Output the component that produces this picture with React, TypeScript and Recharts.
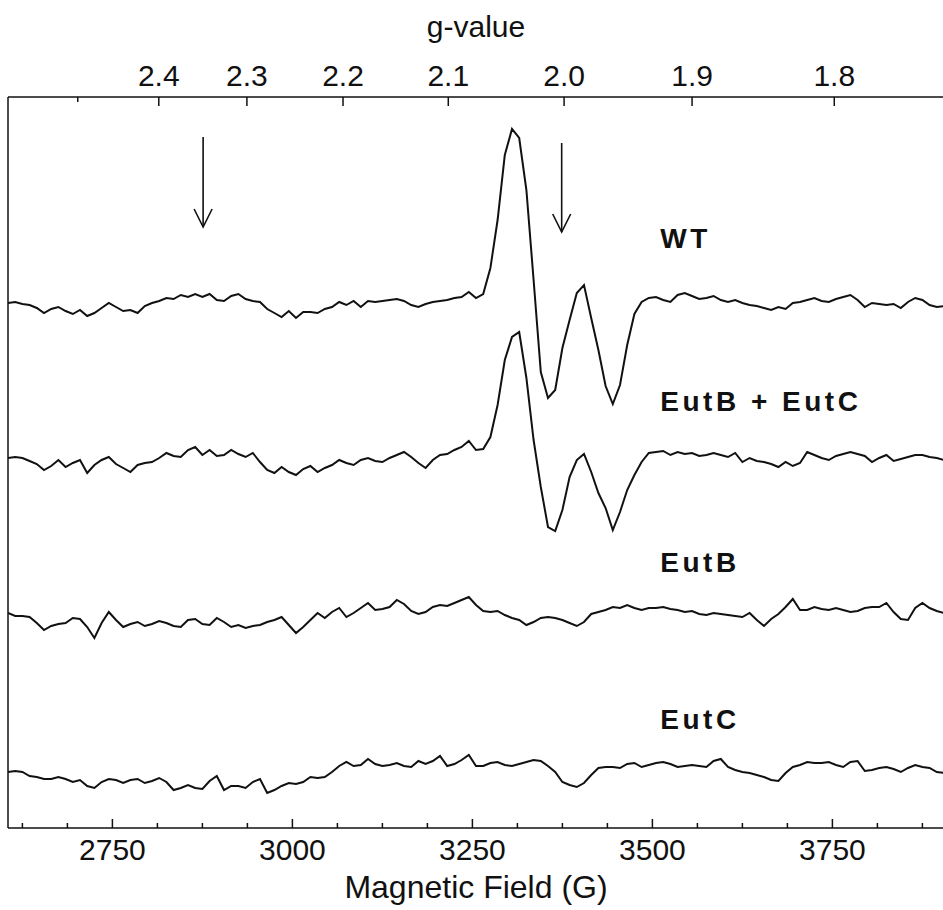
import {
  LineChart, Line, XAxis, YAxis, ReferenceLine, ReferenceDot,
} from 'recharts'

// ── Data ──────────────────────────────────────────────────────────────────────

// field sweep, 10 G steps
const FIELD_START = 2605
const FIELD_END   = 3905
const FIELD_G = Array.from({ length: 131 }, (_, i) => FIELD_START + 10 * i)

// first-derivative EPR signals, arbitrary units
const WT = [
  -3, -2, -4, -5, -8, -13, -9, -7, -11, -14,
  -10, -16, -13, -8, -3, -7, -11, -10, -13, -6,
  -3, -1, 2, 1, 5, 3, 6, 3, 6, 0,
  -1, 4, 6, 1, -1, -2, -9, -13, -17, -11,
  -18, -12, -12, -13, -9, -7, -2, -5, -1, -7,
  -1, -2, -1, 0, 1, -1, -5, -7, -4, -2,
  -1, 0, 2, 3, 8, 2, 6, 32, 80, 145,
  171, 162, 110, 20, -72, -98, -90, -48, -20, 7,
  15, -18, -50, -86, -104, -85, -45, -14, -2, 2,
  3, 0, -2, 5, 7, 4, 1, 2, 4, 0,
  -2, 0, -3, -5, -6, -8, -10, -7, -9, -3,
  -2, 0, 2, -1, -2, 1, 3, 5, 0, -7,
  -3, -4, -5, -4, -8, -2, 2, 0, -5, -7, -6,
]

const EUTB_EUTC = [
  -3, -2, -3, -6, -9, -15, -11, -5, -12, -8,
  -5, -18, -10, -5, -2, -9, -13, -17, -10, -8,
  -7, -3, 2, -1, -2, 5, 8, 0, 5, -1,
  0, 5, 1, -2, 2, -7, -15, -18, -12, -17,
  -20, -14, -11, -17, -13, -10, -5, -8, -10, -5,
  -3, -6, -7, -3, 0, 3, -2, -8, -13, -5,
  0, 1, 5, 8, 14, 5, 6, 18, 50, 95,
  118, 123, 77, 15, -32, -72, -76, -55, -22, -5,
  1, -17, -38, -53, -75, -57, -35, -20, -7, 2,
  3, 4, 0, 3, 1, 2, -1, 0, 2, 0,
  -2, 2, -7, -3, -6, -7, -9, -12, -7, -11,
  -8, 3, 0, -3, -5, -1, 1, 3, 1, -1,
  -7, -3, 0, -6, -4, -2, 0, 0, -2, -3, -5,
]

const EUTB = [
  2, -1, -1, -2, -8, -15, -11, -9, -8, -3,
  -4, -12, -23, -8, 3, -5, -12, -9, -7, -11,
  -9, -6, -8, -11, -12, -5, -4, -9, -10, -3,
  -7, -12, -10, -13, -11, -10, -7, -5, -2, -10,
  -18, -12, -5, 2, -3, 3, 7, -2, 2, 7,
  12, 5, 6, 8, 15, 11, 4, 1, 3, 8,
  10, 9, 12, 15, 18, 10, 4, 3, 4, 0,
  -3, -5, -10, -7, -3, -2, -3, -5, -8, -11,
  -7, 1, 3, 5, 8, 7, 10, 7, 5, 7,
  7, 8, 6, 5, 3, 4, 1, 0, 2, 1,
  0, -1, -2, 2, -5, -11, -4, 1, 8, 16,
  5, 5, 8, 6, 5, 7, 5, 3, 4, 7,
  8, 8, 12, 3, -4, -5, 7, 12, 7, 4, 2,
]

const EUTC = [
  -2, -1, -2, -6, -7, -9, -9, -7, -9, -12,
  -10, -16, -18, -12, -9, -10, -13, -10, -9, -13,
  -11, -8, -12, -20, -18, -15, -18, -19, -11, -6,
  -20, -16, -16, -18, -12, -9, -23, -20, -16, -13,
  -14, -12, -7, -8, -7, -2, 4, 8, 4, 5,
  11, 6, 4, 5, 7, 4, 3, 9, 6, 9,
  14, 4, 6, 10, 15, 4, 4, 7, 8, 5,
  4, 6, 8, 10, 9, 4, -2, -12, -15, -17,
  -13, -5, 2, 3, 3, 2, 6, 7, 3, 5,
  7, 8, 6, 3, 4, 5, 4, 3, 9, 11,
  3, 0, -2, -3, -5, -7, -10, -11, -3, 3,
  5, 8, 7, 7, 8, 5, 3, 8, 9, -1,
  0, 2, 3, 1, -2, 2, 5, 3, 2, -2, -3,
]

// vertical stacking of the spectra (a.u.)
const TRACES = [
  { key: 'wt',   label: 'WT',          values: WT,        offset: 528, labelLevel: 580 },
  { key: 'bc',   label: 'EutB + EutC', values: EUTB_EUTC, offset: 373, labelLevel: 417 },
  { key: 'b',    label: 'EutB',        values: EUTB,      offset: 213, labelLevel: 256 },
  { key: 'c',    label: 'EutC',        values: EUTC,      offset: 58,  labelLevel: 99 },
]
const LABEL_FIELD = 3511

const FIELD_LABELED = [2750, 3000, 3250, 3500, 3750]
const FIELD_TICKS   = Array.from({ length: 21 }, (_, i) => 2625 + 62.5 * i)

// g = h·ν / (μB·B)  ->  B[G] = 0.714477 · ν[MHz] / g
const MW_FREQ_MHZ  = 9454
const G_LABELED    = ['2.4', '2.3', '2.2', '2.1', '2.0', '1.9', '1.8']
const G_MINOR      = ['2.5']
const gToField = (g: string) => (0.714477 * MW_FREQ_MHZ) / parseFloat(g)

// arrows pointing at the g≈2.35 and g≈2.00 positions
const ARROWS = [
  { field: 2876, from: 691, to: 601 },
  { field: 3374, from: 685, to: 596 },
]

const Y_MAX = 731

const FONT = '"Liberation Sans", Arial, Helvetica, sans-serif'
const INK  = '#111'

// ── Ticks ─────────────────────────────────────────────────────────────────────

function FieldTick({ x, y, payload }: any) {
  const v = payload.value as number
  const major = FIELD_LABELED.includes(v)
  return (
    <g>
      <line x1={x} x2={x} y1={y} y2={y - (major ? 9 : 5)} stroke={INK} strokeWidth={1.5} />
      {major && (
        <text x={x} y={y + 32} textAnchor="middle" fontSize={30} fontFamily={FONT} fill={INK}>
          {v}
        </text>
      )}
    </g>
  )
}

// g-value scale on the top edge: a short inward mark plus its label
function GTick({ x1, y1, x2, y2, label }: any) {
  const top = Math.min(y1, y2)
  return (
    <g>
      <line x1={x1} x2={x2} y1={y1} y2={y2} stroke={INK} strokeWidth={1.5} />
      {label && (
        <text x={x1} y={top - 11} textAnchor="middle" fontSize={30} fontFamily={FONT} fill={INK}>
          {label}
        </text>
      )}
    </g>
  )
}

function Arrow({ x1, y1, x2, y2 }: any) {
  return (
    <g stroke={INK} strokeWidth={1.6} fill="none">
      <line x1={x1} y1={y1} x2={x2} y2={y2} />
      <polyline points={`${x2 - 9},${y2 - 18} ${x2},${y2} ${x2 + 9},${y2 - 18}`} />
    </g>
  )
}

// ── Main component ────────────────────────────────────────────────────────────

export default function App() {
  const data = FIELD_G.map((field, i) => {
    const row: Record<string, number> = { field }
    for (const t of TRACES) row[t.key] = t.values[i] + t.offset
    return row
  })

  const gMarks = [
    ...G_MINOR.map(g => ({ g, label: '', len: 5 })),
    ...G_LABELED.map(g => ({ g, label: g, len: 9 })),
  ]

  return (
    <div style={{ position: 'fixed', left: 0, top: 0, width: 943, height: 910, overflow: 'hidden', background: '#fff' }}>
      <LineChart width={950} height={910} data={data} margin={{ top: 0, right: 6, bottom: 0, left: 0 }}>
        <XAxis
          xAxisId="field"
          dataKey="field"
          type="number"
          domain={[FIELD_START, FIELD_END]}
          allowDataOverflow
          ticks={FIELD_TICKS}
          interval={0}
          tick={<FieldTick />}
          tickSize={0}
          tickMargin={0}
          tickLine={false}
          axisLine={{ stroke: INK, strokeWidth: 1.5 }}
          height={82}
          label={{ value: 'Magnetic Field (G)', position: 'insideBottom', offset: 12, fontSize: 32, fontFamily: FONT, fill: INK }}
        />
        <XAxis
          xAxisId="top"
          dataKey="field"
          orientation="top"
          type="number"
          domain={[FIELD_START, FIELD_END]}
          tick={false}
          tickLine={false}
          axisLine={{ stroke: INK, strokeWidth: 1.5 }}
          height={97}
          label={{ value: 'g-value', position: 'insideTop', offset: 16, fontSize: 30, fontFamily: FONT, fill: INK }}
        />
        <YAxis
          type="number"
          domain={[0, Y_MAX]}
          allowDataOverflow
          width={8}
          tick={false}
          tickLine={false}
          axisLine={{ stroke: INK, strokeWidth: 1.5 }}
        />

        {gMarks.map(m => (
          <ReferenceLine
            key={`g-${m.g}`}
            xAxisId="field"
            ifOverflow="visible"
            segment={[
              { x: gToField(m.g), y: Y_MAX - 0.01 },
              { x: gToField(m.g), y: Y_MAX - m.len },
            ]}
            shape={(p: any) => <GTick {...p} label={m.label} />}
          />
        ))}

        {ARROWS.map((a, i) => (
          <ReferenceLine
            key={i}
            xAxisId="field"
            segment={[{ x: a.field, y: a.from }, { x: a.field, y: a.to }]}
            shape={(p: any) => <Arrow {...p} />}
          />
        ))}

        {TRACES.map(t => (
          <Line
            key={t.key}
            xAxisId="field"
            dataKey={t.key}
            type="linear"
            stroke={INK}
            strokeWidth={2}
            dot={false}
            isAnimationActive={false}
          />
        ))}

        {TRACES.map(t => (
          <ReferenceDot
            key={`lbl-${t.key}`}
            xAxisId="field"
            x={LABEL_FIELD}
            y={t.labelLevel}
            r={0}
            shape={(p: any) => (
              <text x={p.cx} y={p.cy} fontSize={28} fontWeight={700} fontFamily={FONT} fill={INK} letterSpacing={3.5}>
                {t.label}
              </text>
            )}
          />
        ))}
      </LineChart>
    </div>
  )
}
